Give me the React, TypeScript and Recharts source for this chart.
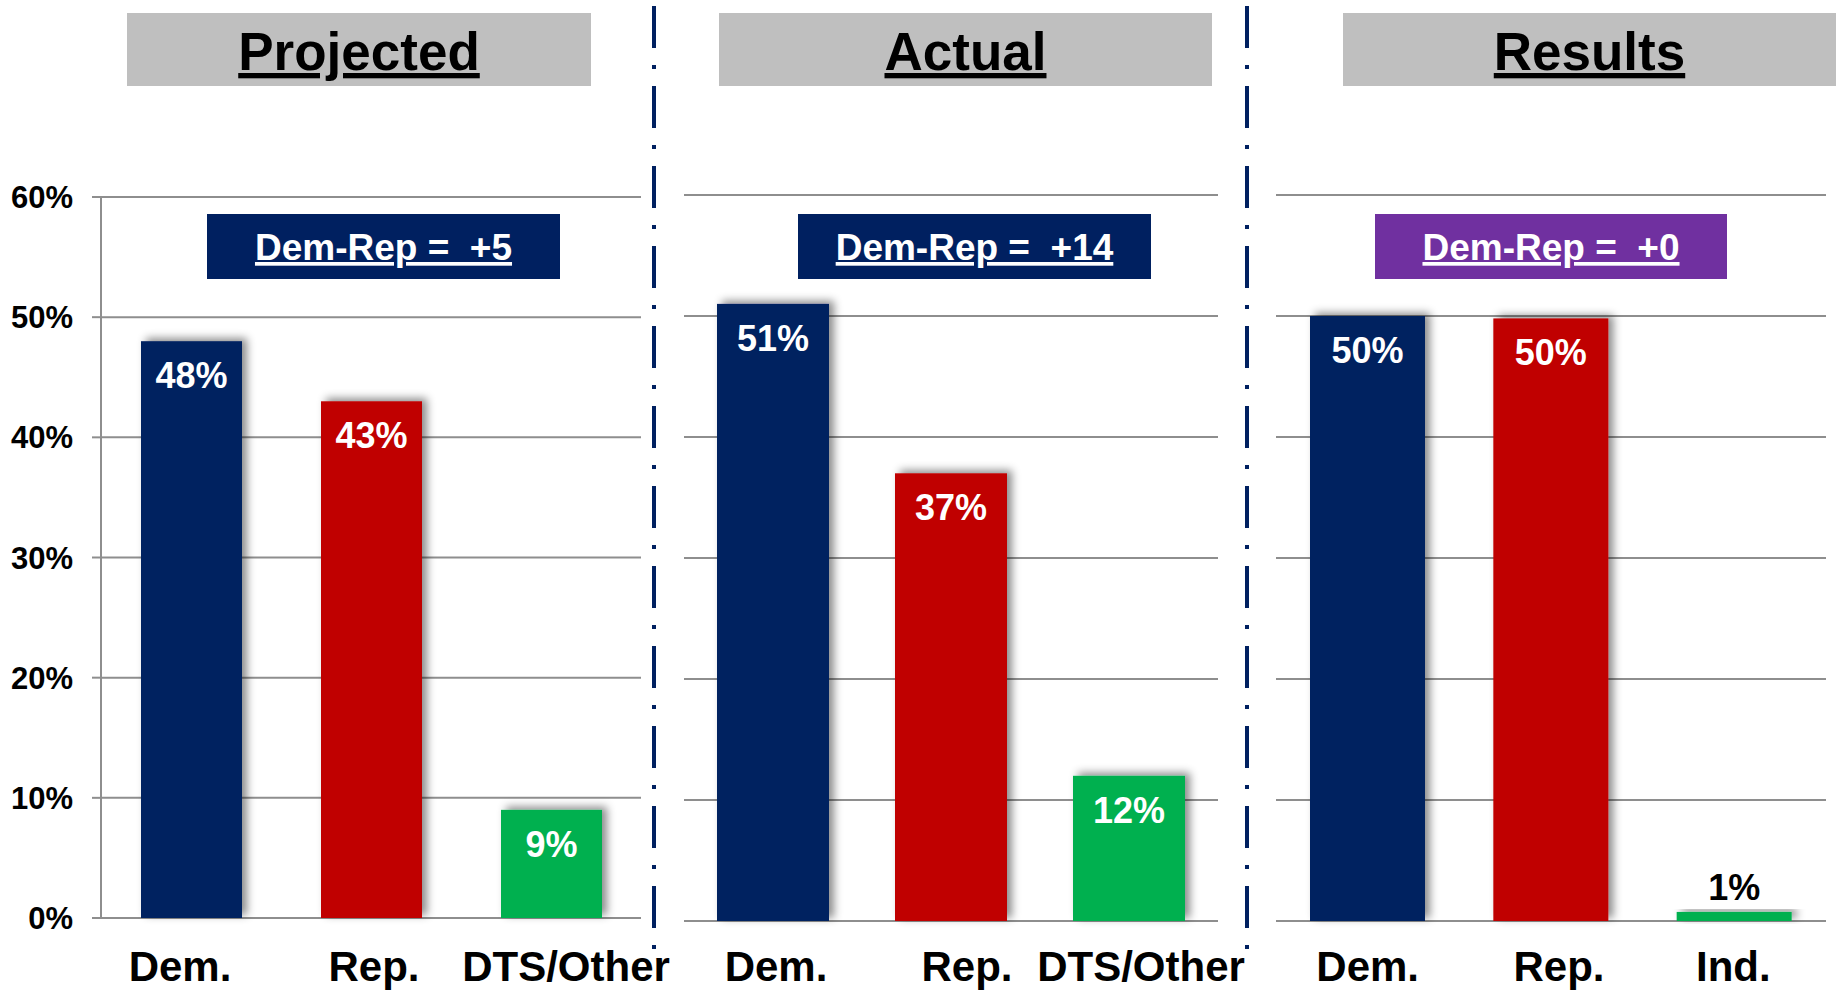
import { BarChart, Bar, XAxis, YAxis, CartesianGrid, Cell, LabelList } from "recharts";

const FONT = "'Liberation Sans', Arial, sans-serif";

// chart data
const partyCategories = ["Dem.", "Rep.", "DTS/Other"];
const resultCategories = ["Dem.", "Rep.", "Ind."];
const projectedValues = [48, 43, 9];
const actualValues = [51, 37, 12];
const resultsValues = [50, 49.8, 0.75];
const percentTicks = [0, 10, 20, 30, 40, 50, 60];
const panelTitles = ["Projected", "Actual", "Results"];
const barColors = ["#002060", "#C00000", "#00B050"];
const diffBoxColors = ["#002060", "#002060", "#7030A0"];

const GRID = "#8e8e8e";
const CATEGORY_BASELINE = 981;

function toRows(categories: string[], values: number[]) {
  return categories.map((name, i) => ({ name, value: values[i] }));
}

const CategoryTick = (props: any) => {
  const { x, payload, index, shifts } = props;
  const dx = shifts?.[index] ?? 0;
  return (
    <text
      x={Number(x) + dx}
      y={CATEGORY_BASELINE}
      textAnchor="middle"
      fontSize={42}
      fontWeight={700}
      fill="#000"
      fontFamily={FONT}
    >
      {payload.value}
    </text>
  );
};

const ShadowBar = (props: any) => {
  const { x, y, width, height, index, filterId } = props;
  if (!height || height <= 0) return null;
  return (
    <rect
      x={x}
      y={y}
      width={width}
      height={height}
      fill={barColors[index] ?? props.fill}
      filter={`url(#${filterId})`}
    />
  );
};

const renderValueLabel = (props: any) => {
  const { x, y, width, height, value } = props;
  const cx = Number(x) + Number(width) / 2;
  const text = `${Math.round(Number(value))}%`;
  const small = Number(height) < 40;
  return (
    <text
      x={cx}
      y={small ? Number(y) - 12 : Number(y) + 47}
      textAnchor="middle"
      fontSize={36}
      fontWeight={700}
      fill={small ? "#000" : "#fff"}
      fontFamily={FONT}
    >
      {text}
    </text>
  );
};

type PanelProps = {
  id: string;
  rows: { name: string; value: number }[];
  left: number;
  width: number;
  margin: { top: number; right: number; bottom: number; left: number };
  barSize: number;
  showYAxis: boolean;
  shifts: number[];
};

function Panel({ id, rows, left, width, margin, barSize, showYAxis, shifts }: PanelProps) {
  const filterId = `shadow-${id}`;
  return (
    <div style={{ position: "absolute", left, top: 0 }}>
      <BarChart width={width} height={992} data={rows} margin={margin}>
        <defs>
          <filter id={filterId} x="-30%" y="-30%" width="160%" height="160%">
            <feDropShadow dx={5} dy={-3} stdDeviation={4} floodColor="#000" floodOpacity={0.45} />
          </filter>
        </defs>
        <CartesianGrid vertical={false} stroke={GRID} strokeWidth={2} />
        <XAxis
          dataKey="name"
          axisLine={false}
          tickLine={false}
          tickSize={0}
          tickMargin={0}
          height={60}
          tick={<CategoryTick shifts={shifts} />}
          interval={0}
        />
        <YAxis
          hide={!showYAxis}
          domain={[0, 60]}
          ticks={percentTicks}
          width={showYAxis ? 101 : 0}
          tickFormatter={(v) => `${v}%`}
          axisLine={{ stroke: GRID, strokeWidth: 2 }}
          tickLine={{ stroke: GRID, strokeWidth: 2 }}
          tickSize={9}
          tickMargin={19}
          tick={{ fontSize: 31, fontWeight: 700, fill: "#000", fontFamily: FONT }}
        />
        <Bar
          dataKey="value"
          barSize={barSize}
          isAnimationActive={false}
          shape={(p: any) => <ShadowBar {...p} filterId={filterId} />}
        >
          {rows.map((r, i) => (
            <Cell key={r.name} fill={barColors[i]} />
          ))}
          <LabelList dataKey="value" content={renderValueLabel} />
        </Bar>
      </BarChart>
    </div>
  );
}

const panelSeries = [projectedValues, actualValues, resultsValues];

export default function App() {
  const titleBoxes = [
    { x: 127, w: 464 },
    { x: 719, w: 493 },
    { x: 1343, w: 493 },
  ];
  const diffBoxes = [
    { x: 207, w: 353 },
    { x: 798, w: 353 },
    { x: 1375, w: 352 },
  ];
  const dividers = [654, 1247];

  return (
    <div
      style={{
        position: "absolute",
        left: 0,
        top: 0,
        width: 1845,
        height: 992,
        overflow: "hidden",
        background: "#fff",
        fontFamily: FONT,
      }}
    >
      <Panel
        id="projected"
        rows={toRows(partyCategories, projectedValues)}
        left={0}
        width={700}
        margin={{ top: 197, right: 59, bottom: 14, left: 0 }}
        barSize={101}
        showYAxis
        shifts={[-11, 3, 15]}
      />
      <Panel
        id="actual"
        rows={toRows(partyCategories, actualValues)}
        left={654}
        width={640}
        margin={{ top: 195, right: 76, bottom: 11, left: 30 }}
        barSize={112}
        showYAxis={false}
        shifts={[3, 16, 12]}
      />
      <Panel
        id="results"
        rows={toRows(resultCategories, resultsValues)}
        left={1247}
        width={598}
        margin={{ top: 195, right: 19, bottom: 11, left: 29 }}
        barSize={115}
        showYAxis={false}
        shifts={[0, 8, -1]}
      />

      <svg
        width={1845}
        height={992}
        style={{ position: "absolute", left: 0, top: 0, pointerEvents: "none" }}
      >
        {dividers.map((x) => (
          <line
            key={x}
            x1={x}
            x2={x}
            y1={6}
            y2={950}
            stroke="#002060"
            strokeWidth={4}
            strokeDasharray="42 17 4 17"
          />
        ))}
        {panelTitles.map((t, i) => {
          const b = titleBoxes[i];
          return (
            <g key={t}>
              <rect x={b.x} y={13} width={b.w} height={73} fill="#BFBFBF" />
              <text
                x={b.x + b.w / 2}
                y={70}
                textAnchor="middle"
                fontSize={53}
                fontWeight={700}
                fill="#000"
                fontFamily={FONT}
                style={{ textDecoration: "underline" }}
              >
                {t}
              </text>
            </g>
          );
        })}
        {panelSeries.map((vals, i) => {
          const b = diffBoxes[i];
          const diff = Math.round(vals[0] - vals[1]);
          const label = `Dem-Rep =  ${diff >= 0 ? "+" : ""}${diff}`;
          return (
            <g key={i}>
              <rect x={b.x} y={214} width={b.w} height={65} fill={diffBoxColors[i]} />
              <text
                x={b.x + b.w / 2}
                y={260}
                textAnchor="middle"
                fontSize={37}
                fontWeight={700}
                fill="#fff"
                fontFamily={FONT}
                style={{ textDecoration: "underline", whiteSpace: "pre" }}
              >
                {label}
              </text>
            </g>
          );
        })}
      </svg>
    </div>
  );
}
